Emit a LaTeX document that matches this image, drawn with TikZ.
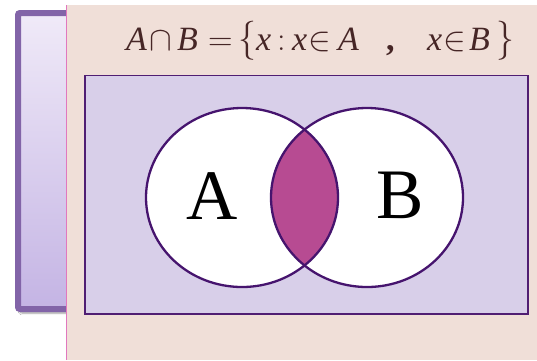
\RequirePackage{fix-cm}
\documentclass[tikz,border=0pt]{standalone}
\usepackage{graphicx}
\usepackage{fontspec}
\setmainfont{Liberation Serif}
\usetikzlibrary{shadows.blur}
\definecolor{panelc}{RGB}{240,223,216}
\definecolor{panelline}{RGB}{225,120,190}
\definecolor{boxborder}{RGB}{130,100,168}
\definecolor{boxtop}{RGB}{240,234,248}
\definecolor{boxbot}{RGB}{196,180,228}
\definecolor{rectfill}{RGB}{216,207,233}
\definecolor{rectborder}{RGB}{80,30,115}
\definecolor{circborder}{RGB}{70,20,110}
\definecolor{lensc}{RGB}{183,75,146}
\definecolor{formulac}{RGB}{70,38,38}
\newcommand\glyphat[2]{\makebox[0pt][l]{\hspace*{#1pt}#2}}
\tikzset{
  circline/.style={draw=circborder, line width=2.3pt},
  setlabel/.style={font=\fontsize{71}{71}\selectfont, text=black, inner sep=0pt},
}
\begin{document}
\begin{tikzpicture}[x=1pt,y=-1pt]
\useasboundingbox (0,0) rectangle (537,360);
\fill[white] (0,0) rectangle (537,360);
% left lavender box
\draw[line width=6pt, draw=boxborder, top color=boxtop, bottom color=boxbot,
      rounded corners=2pt,
      blur shadow={shadow xshift=2pt, shadow yshift=-4pt, shadow blur steps=6, shadow opacity=40}]
      (18,13) rectangle (95,309);
% panel
\fill[panelc] (66,5) rectangle (537,360);
\draw[panelline, line width=0.8pt] (66.4,5) -- (66.4,360);
% formula
\node[anchor=base west, inner sep=0pt, text=formulac,
      font=\fontsize{34}{36}\selectfont] (formula) at (125,50)
  {\makebox[385pt][l]{%
    \glyphat{1}{\textit{A}}%
    \glyphat{24}{$\cap$}%
    \glyphat{52}{\textit{B}}%
    \glyphat{83}{$=$}%
    \glyphat{113}{\scalebox{1.05}[1.15]{$\{$}}%
    \glyphat{131}{\textit{x}}%
    \glyphat{152}{$:$}%
    \glyphat{167}{\textit{x}}%
    \glyphat{183}{$\in$}%
    \glyphat{213}{\textit{A}}%
    \glyphat{261}{\textbf{,}}%
    \glyphat{302}{\textit{x}}%
    \glyphat{318}{$\in$}%
    \glyphat{344}{\textit{B}}%
    \glyphat{371}{\scalebox{1.05}[1.15]{$\}$}}%
  }};
% universe rectangle
\draw[draw=rectborder, line width=1.8pt, fill=rectfill] (85,75.5) rectangle (528,314);
% circles
\fill[white] (242,197.5) ellipse [x radius=96, y radius=89.5];
\fill[white] (367,197.5) ellipse [x radius=96, y radius=89.5];
\begin{scope}
  \clip (242,197.5) ellipse [x radius=96, y radius=89.5];
  \fill[lensc] (367,197.5) ellipse [x radius=96, y radius=89.5];
\end{scope}
\draw[circline] (242,197.5) ellipse [x radius=96, y radius=89.5];
\draw[circline] (367,197.5) ellipse [x radius=96, y radius=89.5];
% labels
\node[setlabel] (A) at (212,196) {A};
\node[setlabel] (B) at (400,195) {B};
\end{tikzpicture}
\end{document}
